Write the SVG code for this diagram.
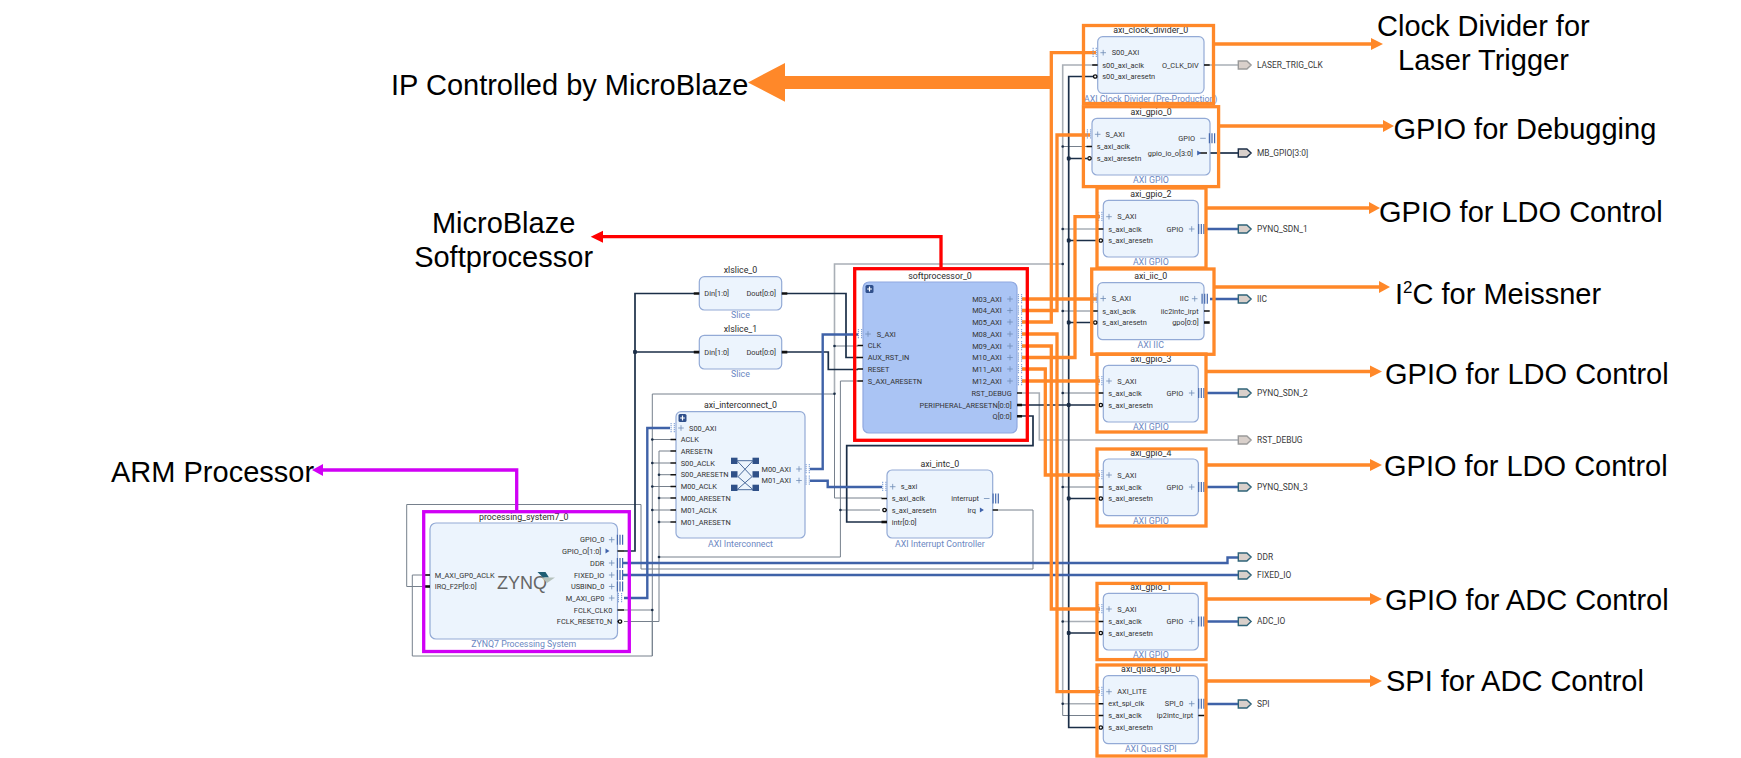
<svg xmlns="http://www.w3.org/2000/svg" width="1741" height="758" viewBox="0 0 1741 758">
<style>
text{font-family:Roboto,"Noto Sans",sans-serif;fill:#333}
.t{font-size:8.8px;text-anchor:middle;fill:#2b2b2b}
.s{font-size:8.8px;text-anchor:middle;fill:#6b87c2}
.p{font-size:7.4px}
.e{text-anchor:end}
.x{font-size:8.4px;fill:#3a3a3a}
.big{font-family:"Liberation Sans",Arial,sans-serif;font-size:29px;fill:#000}
.mid{text-anchor:middle}
.b{fill:#ecf4fd;stroke:#93aad6;stroke-width:1.2}
.sb{fill:#aac4f4;stroke:#8fa8e0;stroke-width:1.2}
.n{fill:none;stroke-linejoin:miter}
.g1{stroke:#a9afb6;stroke-width:1.6}
.g2{stroke:#76808c;stroke-width:1}
.d{stroke:#1b2e47;stroke-width:1.7}
.bl{stroke:#3f62a8;stroke-width:2.4}
.o{stroke:#ff8829;stroke-width:3.3}
.r{stroke:#ff0000;stroke-width:3.3}
.m{stroke:#d000f5;stroke-width:3.3}
.st{stroke:#111;stroke-width:1.5}
.stv{stroke:#111;stroke-width:2.6}
.pl{fill:none;stroke:#6f8bb5;stroke-width:.8}
.ifc{fill:none;stroke:#7d9fd6;stroke-width:1.1;stroke-dasharray:1.2 .8}
.bar{fill:none;stroke:#4468ad;stroke-width:1.2}
.inv{fill:#fff;stroke:#111;stroke-width:1.3}
.dot{fill:#1b2e47}
.ep{fill:#d9d0cb;stroke-width:1.4}
</style>
<defs>
<path id="plus" class="pl" d="M-2.8 0H2.8M0-2.8V2.8"/>
<path id="minus" class="pl" d="M-2.8 0H2.8"/>
<path id="ifc" class="ifc" d="M-1.6-5V5M1.6-5V5"/>
<path id="bars" class="bar" d="M-2.6-5V5M0-5V5M2.6-5V5"/>
<path id="tri" fill="#3f63ab" d="M-1.8-2.6L2.2 0L-1.8 2.6Z"/>
<circle id="inv" class="inv" r="1.7"/>
<circle id="dot" class="dot" r="1.3"/>
<rect id="sq" class="dot" x="-1.9" y="-1.9" width="3.8" height="3.8" rx=".8"/>
<path id="ext" class="ep" d="M-6.4-4H2.2L6.4 0L2.2 4H-6.4Z"/>
<g id="exp"><rect x="-4" y="-4" width="8" height="8" rx="1.5" fill="#2f4f8b"/><path d="M-2.4 0H2.4M0-2.4V2.4" stroke="#fff" stroke-width="1.2"/></g>
</defs>

<g id="connectors">
<g class="n g1">
<path d="M1098 65H1062.7V704M834.5 393.7V264H1062.7"/>
<path d="M1204 65H1238"/>
<path d="M1062.7 229H1098"/>
<path d="M1062.7 621.5H1098M1062.7 703.7H1098"/>
</g>
<g class="n g2">
<path d="M1062.7 704V715.5H1098"/>
<path d="M1062.7 146.5H1087M1062.7 311H1092M1062.7 393H1098M1062.7 487H1098"/>
<path d="M624 610H652.3M652.3 656V394H834.5M834.5 346H858M834.5 393.7V498H882"/>
<path d="M430 575H412.3V656H652.3V610"/>
<path d="M652.3 439.5H671M652.3 463H671M652.3 486.5H671M652.3 510H671"/>
<path d="M624 621.5H659V451H671M659 474.7H671M659 498H671M659 522H671"/>
<path d="M659 557H840.4M840.4 381H858M840.4 381V557M840.4 510H880"/>
<path d="M998 510H1033V569H641V504.5H406.7V586.5H430"/>
</g>
<path class="n g1" d="M1022 393H1039.3V440H1238"/>
<g class="n d">
<path d="M1098 76.5H1068.7V727.5H1098"/>
<path d="M1068.7 158.5H1087M1068.7 240.5H1098M1068.7 322.5H1092M1022 405H1098M1068.7 498.5H1098M1068.7 633H1098"/>
<path d="M694 293.5H635V551H624M635 352H694"/>
<path d="M787 293.5H846V357.5H858"/>
<path d="M787 352H828.3V369.5H858"/>
<path d="M1022 416H1033V445.7H846.7V522H882"/>
<path d="M1210 153H1238"/>
</g>
<g class="n bl">
<path d="M624 598H647.3V428H670"/>
<path d="M810 469H822.7V334.5H858"/>
<path d="M810 480.7H827.7V487H882"/>
<path d="M622 563H1227.5V557.5H1238"/>
<path d="M622 575H1238"/>
<path d="M1205 229H1238M1210 299H1238M1205 393H1238M1205 487H1238M1205 621.5H1238M1205 704H1238"/>
</g>
<g class="n o">
<path d="M1022 299H1097"/>
<path d="M1022 310.5H1057V135H1090"/>
<path d="M1022 322H1051.3V52.7H1096"/>
<path d="M1022 334H1057V691.7H1100"/>
<path d="M1022 346H1051.3V609H1100"/>
<path d="M1022 357.5H1075V216.7H1100"/>
<path d="M1022 369H1045.3V475H1100"/>
<path d="M1022 381H1100"/>
</g>
<g fill="#1b2e47">
<use href="#dot" x="1062.7" y="146.5"/><use href="#dot" x="1062.7" y="229"/><use href="#dot" x="1062.7" y="264"/><use href="#dot" x="1062.7" y="311"/><use href="#dot" x="1062.7" y="393"/><use href="#dot" x="1062.7" y="487"/><use href="#dot" x="1062.7" y="621.5"/><use href="#dot" x="1062.7" y="703.7"/>
<use href="#sq" x="1068.7" y="158.5"/><use href="#sq" x="1068.7" y="240.5"/><use href="#sq" x="1068.7" y="322.5"/><use href="#sq" x="1068.7" y="405"/><use href="#sq" x="1068.7" y="498.5"/><use href="#sq" x="1068.7" y="633"/>
<use href="#dot" x="834.5" y="346"/><use href="#dot" x="834.5" y="393.7"/>
<use href="#dot" x="652.3" y="439.5"/><use href="#dot" x="652.3" y="463"/><use href="#dot" x="652.3" y="486.5"/><use href="#dot" x="652.3" y="510"/><use href="#dot" x="652.3" y="610"/>
<use href="#dot" x="659" y="474.7"/><use href="#dot" x="659" y="498"/><use href="#dot" x="659" y="522"/><use href="#dot" x="659" y="557"/>
<use href="#dot" x="840.4" y="510"/>
<use href="#sq" x="635" y="352"/>
</g>
</g>

<g id="processing_system7_0" transform="translate(430,523)">
<rect class="b" width="187.5" height="116" rx="6"/>
<text class="t" x="93.7" y="-3">processing_system7_0</text>
<text class="s" x="93.7" y="124">ZYNQ7 Processing System</text>
<text x="67" y="66" font-size="18" style="font-family:'Liberation Sans',sans-serif;fill:#666">ZYNQ</text>
<path d="M107.5 49H115.5L119 54.5H113Z" fill="#1d5d74"/><path d="M112 54.5H125L117 60Z" fill="#b5c2bd"/>
<path class="st" d="M-5.5 52H0"/><path class="stv" d="M-5.5 63.5H0"/>
<text class="p" x="4.7" y="54.6">M_AXI_GP0_ACLK</text>
<text class="p" x="4.7" y="66.1">IRQ_F2P[0:0]</text>
<text class="p e" x="174.3" y="19.3">GPIO_0</text>
<text class="p e" x="171.3" y="30.6">GPIO_O[1:0]</text>
<text class="p e" x="174.3" y="42.6">DDR</text>
<text class="p e" x="174.3" y="54.6">FIXED_IO</text>
<text class="p e" x="174.3" y="66.1">USBIND_0</text>
<text class="p e" x="174.3" y="77.6">M_AXI_GP0</text>
<text class="p e" x="182.3" y="89.6">FCLK_CLK0</text>
<text class="p e" x="182.3" y="101.1">FCLK_RESET0_N</text>
<use href="#plus" x="181.7" y="16.7"/><use href="#tri" x="177.3" y="28"/><use href="#plus" x="181.7" y="40"/><use href="#plus" x="181.7" y="52"/><use href="#plus" x="181.7" y="63.5"/><use href="#plus" x="181.7" y="75"/>
<use href="#bars" x="190" y="16.7"/><use href="#bars" x="190" y="40"/><use href="#bars" x="190" y="52"/><use href="#bars" x="190" y="63.5"/><use href="#ifc" x="190" y="75"/>
<path class="st" d="M187.5 28H194M187.5 87H194"/><path class="st" d="M187.5 98.5H192"/><use href="#inv" x="190" y="98.5"/>
</g>

<g id="xlslice_0" transform="translate(699.3,276.7)">
<rect class="b" width="82.4" height="33.3" rx="5"/>
<text class="t" x="41.2" y="-3.5">xlslice_0</text><text class="s" x="41.2" y="41.5">Slice</text>
<path class="stv" d="M-5.5 16.8H0M82.4 16.8H88"/>
<text class="p" x="5" y="19.4">Din[1:0]</text><text class="p e" x="76.7" y="19.4">Dout[0:0]</text>
</g>
<g id="xlslice_1" transform="translate(699.3,335.3)">
<rect class="b" width="82.4" height="33.7" rx="5"/>
<text class="t" x="41.2" y="-3.5">xlslice_1</text><text class="s" x="41.2" y="41.5">Slice</text>
<path class="stv" d="M-5.5 16.8H0M82.4 16.8H88"/>
<text class="p" x="5" y="19.4">Din[1:0]</text><text class="p e" x="76.7" y="19.4">Dout[0:0]</text>
</g>

<g id="axi_interconnect_0" transform="translate(676,411.7)">
<rect class="b" width="129" height="126.3" rx="5"/>
<text class="t" x="64.5" y="-3.5">axi_interconnect_0</text><text class="s" x="64.5" y="135">AXI Interconnect</text>
<use href="#exp" x="6.5" y="6.3"/>
<use href="#ifc" x="-3.3" y="16.3"/><use href="#plus" x="5" y="16.3"/>
<path class="st" d="M-5.5 27.8H0M-5.5 39.3H0M-5.5 51.3H0M-5.5 63H0M-5.5 74.8H0M-5.5 86.3H0M-5.5 98.3H0M-5.5 110.3H0"/>
<text class="p" x="13" y="18.9">S00_AXI</text>
<text class="p" x="4.7" y="30.4">ACLK</text>
<text class="p" x="4.7" y="41.9">ARESETN</text>
<text class="p" x="4.7" y="53.9">S00_ACLK</text>
<text class="p" x="4.7" y="65.6">S00_ARESETN</text>
<text class="p" x="4.7" y="77.4">M00_ACLK</text>
<text class="p" x="4.7" y="88.9">M00_ARESETN</text>
<text class="p" x="4.7" y="100.9">M01_ACLK</text>
<text class="p" x="4.7" y="112.9">M01_ARESETN</text>
<text class="p e" x="115" y="59.9">M00_AXI</text><text class="p e" x="115" y="71.4">M01_AXI</text>
<use href="#plus" x="123" y="57.3"/><use href="#plus" x="123" y="68.8"/>
<use href="#ifc" x="131.7" y="57.3"/><use href="#ifc" x="131.7" y="68.8"/>
<g fill="#2f5088"><rect x="55" y="46" width="6.5" height="6.3"/><rect x="76.5" y="46" width="6.5" height="6.3"/><rect x="55" y="59.5" width="6.5" height="6.3"/><rect x="76.5" y="59.5" width="6.5" height="6.3"/><rect x="55" y="73" width="6.5" height="6.3"/><rect x="76.5" y="73" width="6.5" height="6.3"/></g>
<path fill="none" stroke="#4a6a9c" stroke-width="1" d="M61 49H77L62 65L77 78H61L76 65L61 49"/>
</g>

<g id="softprocessor_0" transform="translate(863,282)">
<rect class="sb" width="154" height="151" rx="6"/>
<text class="t" x="77" y="-3">softprocessor_0</text>
<use href="#exp" x="6.5" y="7"/>
<use href="#ifc" x="-3" y="52"/><use href="#plus" x="5" y="52"/>
<path class="st" d="M-5.5 63.5H0M-5.5 75.5H0M-5.5 87H0M-5.5 99H0M154 111H159"/>
<path class="stv" d="M154 123H159M154 134.3H159"/>
<text class="p" x="13.7" y="54.6">S_AXI</text>
<text class="p" x="4.7" y="66.1">CLK</text>
<text class="p" x="4.7" y="78.1">AUX_RST_IN</text>
<text class="p" x="4.7" y="89.6">RESET</text>
<text class="p" x="4.7" y="101.6">S_AXI_ARESETN</text>
<text class="p e" x="138.7" y="19.6">M03_AXI</text>
<text class="p e" x="138.7" y="31.1">M04_AXI</text>
<text class="p e" x="138.7" y="42.6">M05_AXI</text>
<text class="p e" x="138.7" y="54.6">M08_AXI</text>
<text class="p e" x="138.7" y="66.6">M09_AXI</text>
<text class="p e" x="138.7" y="78.1">M10_AXI</text>
<text class="p e" x="138.7" y="89.6">M11_AXI</text>
<text class="p e" x="138.7" y="101.6">M12_AXI</text>
<text class="p e" x="148.7" y="113.6">RST_DEBUG</text>
<text class="p e" x="148.7" y="125.6">PERIPHERAL_ARESETN[0:0]</text>
<text class="p e" x="148.7" y="136.9">Q[0:0]</text>
<use href="#plus" x="147" y="17"/><use href="#plus" x="147" y="28.5"/><use href="#plus" x="147" y="40"/><use href="#plus" x="147" y="52"/><use href="#plus" x="147" y="64"/><use href="#plus" x="147" y="75.5"/><use href="#plus" x="147" y="87"/><use href="#plus" x="147" y="99"/>
<use href="#ifc" x="157" y="17"/><use href="#ifc" x="157" y="28.5"/><use href="#ifc" x="157" y="40"/><use href="#ifc" x="157" y="52"/><use href="#ifc" x="157" y="64"/><use href="#ifc" x="157" y="75.5"/><use href="#ifc" x="157" y="87"/><use href="#ifc" x="157" y="99"/>
</g>

<g id="axi_intc_0" transform="translate(887,470)">
<rect class="b" width="105.7" height="68" rx="5"/>
<text class="t" x="52.8" y="-3.5">axi_intc_0</text><text class="s" x="52.8" y="77">AXI Interrupt Controller</text>
<use href="#ifc" x="-2.7" y="16.7"/><use href="#plus" x="5.7" y="16.7"/>
<path class="st" d="M-5.5 28.5H0M-2 40H0"/><path class="stv" d="M-5.5 52H0"/><use href="#inv" x="-2.5" y="40"/>
<text class="p" x="13.7" y="19.3">s_axi</text>
<text class="p" x="4.7" y="31.1">s_axi_aclk</text>
<text class="p" x="4.7" y="42.6">s_axi_aresetn</text>
<text class="p" x="4.7" y="54.6">intr[0:0]</text>
<text class="p e" x="92" y="31.1">interrupt</text><text class="p e" x="89" y="42.6">irq</text>
<use href="#minus" x="99.7" y="28.5"/><use href="#tri" x="94.7" y="40"/>
<use href="#bars" x="108.7" y="28.5"/><path class="st" d="M105.7 40H111"/>
</g>

<g id="axi_clock_divider_0" transform="translate(1097.7,36.7)">
<rect class="b" width="106.3" height="56.6" rx="5"/>
<text class="t" x="53" y="-3.5">axi_clock_divider_0</text><text class="s" x="53" y="65.3">AXI Clock Divider (Pre-Production)</text>
<use href="#ifc" x="-3" y="16"/><use href="#plus" x="5.5" y="16"/>
<path class="st" d="M-5.5 28.3H0M106.3 28.3H112"/><use href="#inv" x="-2.5" y="39.8"/>
<text class="p" x="14" y="18.6">S00_AXI</text><text class="p" x="4.6" y="30.9">s00_axi_aclk</text><text class="p" x="4.6" y="42.4">s00_axi_aresetn</text>
<text class="p e" x="101" y="30.9">O_CLK_DIV</text>
</g>
<g id="axi_gpio_0" transform="translate(1092,118.3)">
<rect class="b" width="118" height="56.7" rx="5"/>
<text class="t" x="59" y="-3.3">axi_gpio_0</text><text class="s" x="59" y="64.7">AXI GPIO</text>
<use href="#ifc" x="-3" y="16"/><use href="#plus" x="5.7" y="16"/>
<path class="st" d="M-5.5 28.2H0M106 34.7H115"/><use href="#inv" x="-2.5" y="40"/>
<text class="p" x="13.5" y="18.6">S_AXI</text><text class="p" x="4.7" y="30.8">s_axi_aclk</text><text class="p" x="4.7" y="42.6">s_axi_aresetn</text>
<text class="p e" x="103" y="22.6">GPIO</text><text class="p e" x="101" y="37.3">gpio_io_o[3:0]</text>
<use href="#minus" x="111" y="20"/><use href="#tri" x="107" y="34.7"/><use href="#bars" x="120" y="20"/>
</g>
<g id="axi_gpio_2" transform="translate(1103.3,200.3)">
<rect class="b" width="95" height="56.7" rx="5"/>
<text class="t" x="47.5" y="-3.3">axi_gpio_2</text><text class="s" x="47.5" y="64.7">AXI GPIO</text>
<use href="#ifc" x="-3" y="16.4"/><use href="#plus" x="5.7" y="16.4"/>
<path class="st" d="M-5.5 28.7H0"/><use href="#inv" x="-2.5" y="40.2"/>
<text class="p" x="14" y="19">S_AXI</text><text class="p" x="5" y="31.3">s_axi_aclk</text><text class="p" x="5" y="42.8">s_axi_aresetn</text>
<text class="p e" x="80" y="31.3">GPIO</text><use href="#plus" x="88.4" y="28.7"/><use href="#bars" x="98" y="28.7"/>
</g>
<g id="axi_iic_0" transform="translate(1097.7,282.7)">
<rect class="b" width="106.3" height="57" rx="5"/>
<text class="t" x="53" y="-3.7">axi_iic_0</text><text class="s" x="53" y="65">AXI IIC</text>
<use href="#ifc" x="-3" y="15.8"/><use href="#plus" x="5.5" y="15.8"/>
<path class="st" d="M-5.5 28.3H0M106.3 28.3H112"/><use href="#inv" x="-2.5" y="39.8"/><path class="stv" d="M106.3 39.8H112"/>
<text class="p" x="14" y="18.4">S_AXI</text><text class="p" x="4.6" y="30.9">s_axi_aclk</text><text class="p" x="4.6" y="42.4">s_axi_aresetn</text>
<text class="p e" x="91" y="18.4">IIC</text><text class="p e" x="101" y="30.9">iic2intc_irpt</text><text class="p e" x="101" y="42.4">gpo[0:0]</text>
<use href="#plus" x="97" y="16"/><use href="#bars" x="107" y="16"/>
</g>
<g id="axi_gpio_3" transform="translate(1103.3,365.3)">
<rect class="b" width="95" height="56.7" rx="5"/>
<text class="t" x="47.5" y="-3.3">axi_gpio_3</text><text class="s" x="47.5" y="64.4">AXI GPIO</text>
<use href="#ifc" x="-3" y="15.7"/><use href="#plus" x="5.7" y="15.7"/>
<path class="st" d="M-5.5 27.7H0"/><use href="#inv" x="-2.5" y="39.7"/>
<text class="p" x="14" y="18.3">S_AXI</text><text class="p" x="5" y="30.3">s_axi_aclk</text><text class="p" x="5" y="42.3">s_axi_aresetn</text>
<text class="p e" x="80" y="30.3">GPIO</text><use href="#plus" x="88.4" y="27.7"/><use href="#bars" x="98" y="27.7"/>
</g>
<g id="axi_gpio_4" transform="translate(1103.3,459)">
<rect class="b" width="95" height="56.7" rx="5"/>
<text class="t" x="47.5" y="-3.5">axi_gpio_4</text><text class="s" x="47.5" y="64.7">AXI GPIO</text>
<use href="#ifc" x="-3" y="16"/><use href="#plus" x="5.7" y="16"/>
<path class="st" d="M-5.5 28H0"/><use href="#inv" x="-2.5" y="39.5"/>
<text class="p" x="14" y="18.6">S_AXI</text><text class="p" x="5" y="30.6">s_axi_aclk</text><text class="p" x="5" y="42.1">s_axi_aresetn</text>
<text class="p e" x="80" y="30.6">GPIO</text><use href="#plus" x="88.4" y="28"/><use href="#bars" x="98" y="28"/>
</g>
<g id="axi_gpio_1" transform="translate(1103.3,593.3)">
<rect class="b" width="95" height="56.7" rx="5"/>
<text class="t" x="47.5" y="-3.3">axi_gpio_1</text><text class="s" x="47.5" y="64.7">AXI GPIO</text>
<use href="#ifc" x="-3" y="15.7"/><use href="#plus" x="5.7" y="15.7"/>
<path class="st" d="M-5.5 28.2H0"/><use href="#inv" x="-2.5" y="39.7"/>
<text class="p" x="14" y="18.3">S_AXI</text><text class="p" x="5" y="30.8">s_axi_aclk</text><text class="p" x="5" y="42.3">s_axi_aresetn</text>
<text class="p e" x="80" y="30.8">GPIO</text><use href="#plus" x="88.4" y="28.2"/><use href="#bars" x="98" y="28.2"/>
</g>
<g id="axi_quad_spi_0" transform="translate(1103.3,675.7)">
<rect class="b" width="95" height="68" rx="5"/>
<text class="t" x="47.5" y="-3.7">axi_quad_spi_0</text><text class="s" x="47.5" y="76.3">AXI Quad SPI</text>
<use href="#ifc" x="-3" y="16"/><use href="#plus" x="5.7" y="16"/>
<path class="st" d="M-5.5 28H0M-5.5 39.8H0M95 39.8H101"/><use href="#inv" x="-2.5" y="51.8"/>
<text class="p" x="14" y="18.6">AXI_LITE</text><text class="p" x="5" y="30.6">ext_spi_clk</text><text class="p" x="5" y="42.4">s_axi_aclk</text><text class="p" x="5" y="54.4">s_axi_aresetn</text>
<text class="p e" x="80" y="30.6">SPI_0</text><text class="p e" x="90" y="42.4">ip2intc_irpt</text><use href="#plus" x="88.4" y="28"/><use href="#bars" x="98" y="28"/>
</g>

<g id="external_ports">
<use href="#ext" x="1244.7" y="65" stroke="#9a9a9a"/><text class="x" x="1257" y="67.8">LASER_TRIG_CLK</text>
<use href="#ext" x="1244.7" y="153" stroke="#1b2e47"/><text class="x" x="1257" y="155.8">MB_GPIO[3:0]</text>
<use href="#ext" x="1244.7" y="229" stroke="#2f6378"/><text class="x" x="1257" y="231.8">PYNQ_SDN_1</text>
<use href="#ext" x="1244.7" y="299" stroke="#2f6378"/><text class="x" x="1257" y="301.8">IIC</text>
<use href="#ext" x="1244.7" y="393" stroke="#2f6378"/><text class="x" x="1257" y="395.8">PYNQ_SDN_2</text>
<use href="#ext" x="1244.7" y="440" stroke="#9a9a9a"/><text class="x" x="1257" y="442.8">RST_DEBUG</text>
<use href="#ext" x="1244.7" y="487" stroke="#2f6378"/><text class="x" x="1257" y="489.8">PYNQ_SDN_3</text>
<use href="#ext" x="1244.7" y="557" stroke="#2f6378"/><text class="x" x="1257" y="559.8">DDR</text>
<use href="#ext" x="1244.7" y="575" stroke="#2f6378"/><text class="x" x="1257" y="577.8">FIXED_IO</text>
<use href="#ext" x="1244.7" y="621.5" stroke="#2f6378"/><text class="x" x="1257" y="624.3">ADC_IO</text>
<use href="#ext" x="1244.7" y="704" stroke="#2f6378"/><text class="x" x="1257" y="706.8">SPI</text>
</g>

<g id="annotation-frames" fill="none">
<g class="o">
<rect x="1083.5" y="25.5" width="130" height="78"/>
<rect x="1083.4" y="106.7" width="135.2" height="79.9"/>
<rect x="1097" y="188" width="109" height="80"/>
<rect x="1091.7" y="269" width="122.3" height="85.3"/>
<rect x="1097" y="354" width="109" height="78"/>
<rect x="1097" y="449" width="109" height="77"/>
<rect x="1097" y="583.4" width="109" height="76.2"/>
<rect x="1097" y="665" width="109" height="91"/>
<path d="M1215 44H1372M1220 126H1384M1206 208H1370M1215 287H1380M1206 371.5H1371M1206 465H1371M1206 599H1371M1206 681H1371"/>
</g>
<g fill="#ff8829" stroke="none">
<path d="M1383 44L1371 38V50Z"/><path d="M1394 126L1383 120V132Z"/><path d="M1380 208L1369 202V214Z"/><path d="M1390 287L1379 281V293Z"/><path d="M1382 371.5L1370 365.5V377.5Z"/><path d="M1382 465L1370 459V471Z"/><path d="M1382 599L1370 593V605Z"/><path d="M1382 681L1370 675V687Z"/>
<path d="M748 82.5L785 63V76H1050.5V89H785V101.7Z"/>
</g>
<rect class="r" x="854.7" y="268.7" width="172.6" height="171.6"/>
<path class="r" d="M941 267V236.7H602"/><path fill="#ff0000" d="M590.7 236.7L603 230.7V242.7Z"/>
<rect class="m" x="423.7" y="511.7" width="205.6" height="139.8"/>
<path class="m" d="M516.7 511V470H322"/><path fill="#d000f5" d="M312 470L323 464V476Z"/>
</g>

<g id="annotation-labels">
<text class="big" x="391" y="95">IP Controlled by MicroBlaze</text>
<text class="big mid" x="503.6" y="232.7">MicroBlaze</text>
<text class="big mid" x="503.6" y="267">Softprocessor</text>
<text class="big" x="111" y="481.7">ARM Processor</text>
<text class="big" x="1377" y="36">Clock Divider for</text>
<text class="big" x="1398" y="70">Laser Trigger</text>
<text class="big" x="1393.5" y="139">GPIO for Debugging</text>
<text class="big" x="1379" y="222">GPIO for LDO Control</text>
<text class="big" x="1395" y="304">I<tspan font-size="17" dy="-11">2</tspan><tspan dy="11">C for Meissner</tspan></text>
<text class="big" x="1385" y="383.5">GPIO for LDO Control</text>
<text class="big" x="1384" y="476">GPIO for LDO Control</text>
<text class="big" x="1385" y="609.5">GPIO for ADC Control</text>
<text class="big" x="1386" y="691">SPI for ADC Control</text>
</g>
</svg>
